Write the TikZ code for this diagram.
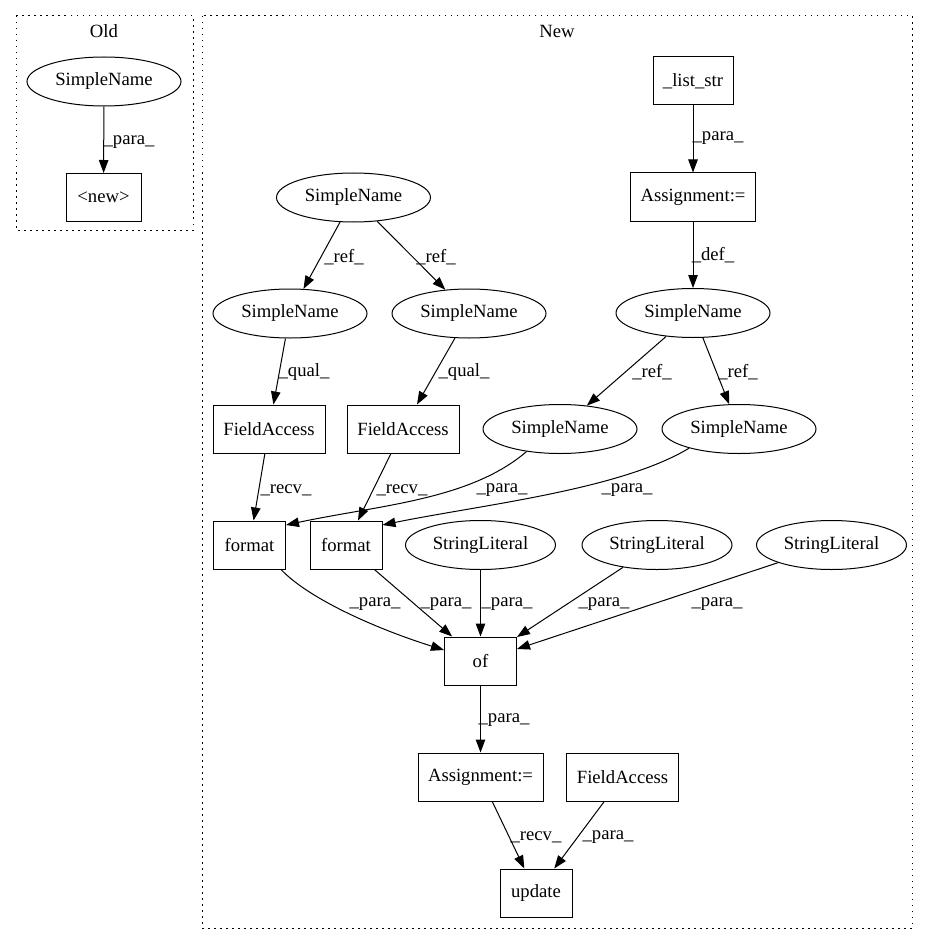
\documentclass[tikz,border=0pt]{standalone}
\usepackage{fontspec}
\setmainfont{Liberation Serif}
\usetikzlibrary{shapes.geometric,arrows.meta}
\begin{document}
\begin{tikzpicture}[x=1pt,y=-1pt,
  every node/.style={font=\fontsize{18.67}{22}\selectfont},
  ell/.style={draw,ellipse,line width=1pt,minimum width=154pt,minimum height=49pt,inner sep=0pt},
  box/.style={draw,rectangle,line width=1pt,minimum height=48pt,inner sep=0pt},
  elab/.style={inner sep=0pt},
  edge/.style={line width=1pt,-{Triangle[length=13pt,width=9.5pt]}},
  cluster/.style={line width=1pt,dash pattern=on 1.5pt off 4.5pt}]
\useasboundingbox (0,0) rectangle (928,944);
% clusters
\draw[cluster] (16,16) rectangle (193,230);
\draw[cluster] (202,16) rectangle (912,928);
\node[elab] (oldlab) at (104,31) {Old};
\node[elab] (newlab) at (557,31) {New};
% Old nodes
\node[ell] (oldsn) at (104,81.5) {SimpleName};
\node[box,minimum width=75pt] (oldnew) at (103.5,197.5) {<new>};
% New nodes
\node[box,minimum width=80pt] (list) at (693,81) {\_list\_str};
\node[box,minimum width=125pt] (asg1) at (693,197) {Assignment:=};
\node[ell] (sntop) at (353.5,197.5) {SimpleName};
\node[ell] (snl) at (290,313.5) {SimpleName};
\node[ell] (snm) at (469,313.5) {SimpleName};
\node[ell] (sndef) at (693,313) {SimpleName};
\node[box,minimum width=112pt] (fal) at (269,429) {FieldAccess};
\node[box,minimum width=112pt] (fam) at (403,429) {FieldAccess};
\node[ell] (sn1) at (560,429) {SimpleName};
\node[ell] (sn2) at (739,429) {SimpleName};
\node[box,minimum width=72pt] (fl) at (249.5,545) {format};
\node[box,minimum width=72pt] (fr) at (346,545) {format};
\node[ell,minimum width=150pt] (sl1) at (480.5,545) {StringLiteral};
\node[ell,minimum width=150pt] (sl2) at (657,545) {StringLiteral};
\node[ell,minimum width=150pt] (sl3) at (831.5,545) {StringLiteral};
\node[box,minimum width=72pt] (of) at (480.5,661) {of};
\node[box,minimum width=125pt] (asg2) at (480.5,777) {Assignment:=};
\node[box,minimum width=112pt] (fa3) at (622.5,777) {FieldAccess};
\node[box,minimum width=72pt] (upd) at (536,893) {update};
% edges
\draw[edge] (oldsn) -- (oldnew);
\draw[edge] (list) -- (asg1);
\draw[edge] (asg1) -- (sndef);
\draw[edge] (sntop) -- (snl);
\draw[edge] (sntop) -- (snm);
\draw[edge] (sndef) -- (sn1);
\draw[edge] (sndef) -- (sn2);
\draw[edge] (snl) -- (fal);
\draw[edge] (snm) -- (fam);
\draw[edge] (fal) -- (fl);
\draw[edge] (fam) -- (fr);
\draw[edge] (sn1.214) .. controls (470,500) and (380,505) .. ([yshift=20pt]fl.east);
\draw[edge] (sn2.201) .. controls (620,490) and (480,505) .. ([yshift=20pt]fr.east);
\draw[edge] ([xshift=-5pt]fl.south east) .. controls (310,600) and (380,630) .. ([yshift=11pt]of.west);
\draw[edge] (fr) -- (of);
\draw[edge] (sl1) -- (of);
\draw[edge] (sl2) -- (of);
\draw[edge] (sl3) -- (of);
\draw[edge] (of) -- (asg2);
\draw[edge] (asg2) -- (upd);
\draw[edge] (fa3) -- (upd);
% edge labels
\node[elab] (e1) at (129,142) {\_para\_};
\node[elab] (e2) at (718,138) {\_para\_};
\node[elab] (e3) at (713,255) {\_def\_};
\node[elab] (e4) at (344,257) {\_ref\_};
\node[elab] (e5) at (436,257) {\_ref\_};
\node[elab] (e6) at (652,372) {\_ref\_};
\node[elab] (e7) at (738,372) {\_ref\_};
\node[elab] (e8) at (304,372) {\_qual\_};
\node[elab] (e9) at (464,372) {\_qual\_};
\node[elab] (e10) at (286,490) {\_recv\_};
\node[elab] (e11) at (402,490) {\_recv\_};
\node[elab] (e12) at (502,490) {\_para\_};
\node[elab] (e13) at (627,490) {\_para\_};
\node[elab] (e14) at (375,604) {\_para\_};
\node[elab] (e15) at (446,604) {\_para\_};
\node[elab] (e16) at (507,604) {\_para\_};
\node[elab] (e17) at (604,604) {\_para\_};
\node[elab] (e18) at (717,604) {\_para\_};
\node[elab] (e19) at (504,720) {\_para\_};
\node[elab] (e20) at (536,837) {\_recv\_};
\node[elab] (e21) at (608,837) {\_para\_};
\end{tikzpicture}
\end{document}
